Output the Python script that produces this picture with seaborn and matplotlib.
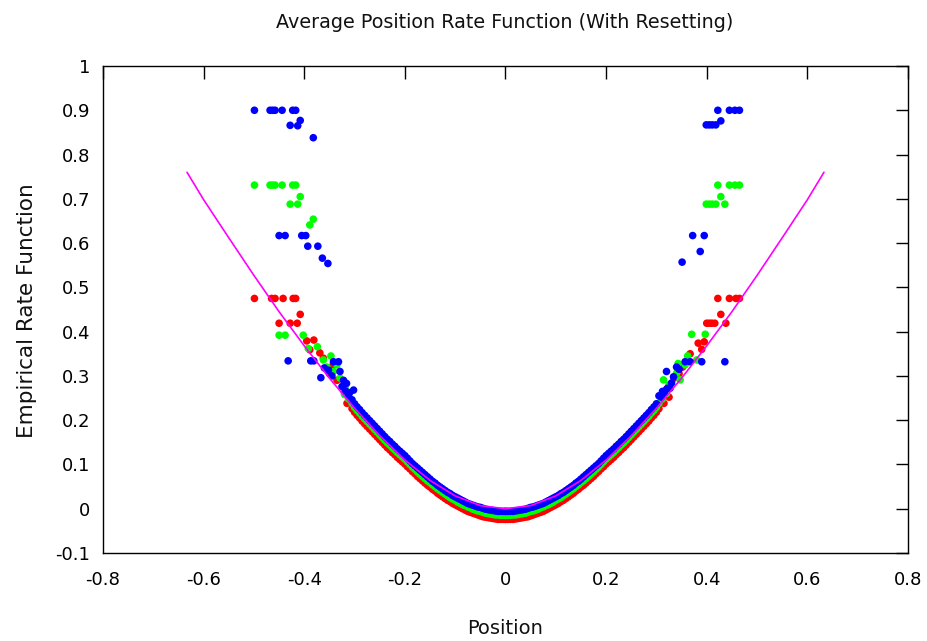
import matplotlib
matplotlib.use("Agg")
import matplotlib.pyplot as plt
import pandas as pd
import seaborn as sns

# ---------------- data ----------------
# dense band (half grid, mirrored to negative positions)
band_x = [0.000, 0.005, 0.010, 0.015, 0.020, 0.025, 0.030, 0.035, 0.040, 0.045,
          0.050, 0.055, 0.060, 0.065, 0.070, 0.075, 0.080, 0.085, 0.090, 0.095,
          0.100, 0.105, 0.110, 0.115, 0.120, 0.125, 0.130, 0.135, 0.140, 0.145,
          0.150, 0.155, 0.160, 0.165, 0.170, 0.175, 0.180, 0.185, 0.190, 0.195,
          0.200, 0.205, 0.210, 0.215, 0.220, 0.225, 0.230, 0.235, 0.240, 0.245,
          0.250, 0.255, 0.260, 0.265, 0.270, 0.275, 0.280, 0.285, 0.290, 0.295, 0.300]
blue_band_y = [-0.006, -0.006, -0.006, -0.006, -0.005, -0.004, -0.003, -0.002, -0.001, 0.001,
               0.003, 0.004, 0.006, 0.008, 0.010, 0.012, 0.015, 0.018, 0.021, 0.024,
               0.027, 0.030, 0.034, 0.037, 0.041, 0.045, 0.049, 0.053, 0.058, 0.062,
               0.067, 0.072, 0.077, 0.082, 0.087, 0.092, 0.097, 0.102, 0.108, 0.114,
               0.120, 0.125, 0.130, 0.135, 0.141, 0.146, 0.152, 0.157, 0.163, 0.169,
               0.175, 0.181, 0.187, 0.193, 0.199, 0.205, 0.211, 0.217, 0.224, 0.230, 0.237]
green_band_y = [-0.015, -0.015, -0.015, -0.014, -0.014, -0.013, -0.012, -0.011, -0.010, -0.008,
                -0.006, -0.005, -0.003, -0.001, 0.002, 0.004, 0.007, 0.009, 0.012, 0.015,
                0.019, 0.022, 0.025, 0.029, 0.033, 0.037, 0.041, 0.045, 0.050, 0.054,
                0.059, 0.063, 0.068, 0.073, 0.078, 0.083, 0.089, 0.094, 0.100, 0.106,
                0.112, 0.117, 0.122, 0.127, 0.133, 0.138, 0.144, 0.149, 0.155, 0.161,
                0.167, 0.173, 0.179, 0.185, 0.191, 0.197, 0.203, 0.209, 0.216, 0.222, 0.229]
red_band_y = [-0.024, -0.024, -0.024, -0.024, -0.023, -0.022, -0.021, -0.020, -0.019, -0.018,
              -0.016, -0.014, -0.012, -0.010, -0.008, -0.006, -0.003, 0.000, 0.003, 0.006,
              0.009, 0.012, 0.016, 0.019, 0.023, 0.027, 0.031, 0.035, 0.040, 0.044,
              0.049, 0.053, 0.058, 0.063, 0.068, 0.073, 0.079, 0.084, 0.090, 0.095,
              0.101, 0.106, 0.111, 0.116, 0.122, 0.127, 0.133, 0.138, 0.144, 0.150,
              0.156, 0.162, 0.168, 0.174, 0.180, 0.186, 0.192, 0.198, 0.205, 0.211, 0.218]

# scattered points (outer region)
blue_x = [-0.499, -0.468, -0.463, -0.458, -0.444, -0.423, -0.417, -0.428, -0.413, -0.408, -0.382,
          -0.450, -0.438, -0.405, -0.397, -0.393, -0.373, -0.364, -0.353, -0.432,
          -0.387, -0.381, -0.367, -0.352, -0.342, -0.332, -0.329, -0.316, -0.302, -0.345, -0.360, -0.322, -0.310,
          -0.305, -0.312, -0.318, -0.325,
          0.422, 0.445, 0.456, 0.465, 0.428, 0.399, 0.405, 0.411, 0.418,
          0.372, 0.395, 0.387, 0.351, 0.436,
          0.357, 0.367, 0.390, 0.320, 0.334, 0.327, 0.345, 0.312, 0.305, 0.340,
          0.310, 0.316, 0.322, 0.330]
blue_y = [0.900, 0.900, 0.900, 0.900, 0.900, 0.900, 0.900, 0.866, 0.865, 0.877, 0.838,
          0.617, 0.617, 0.617, 0.617, 0.593, 0.593, 0.566, 0.554, 0.334,
          0.334, 0.334, 0.296, 0.313, 0.332, 0.332, 0.310, 0.283, 0.268, 0.300, 0.318, 0.290, 0.262,
          0.246, 0.256, 0.266, 0.276,
          0.900, 0.900, 0.900, 0.900, 0.876, 0.867, 0.867, 0.867, 0.867,
          0.617, 0.617, 0.581, 0.557, 0.332,
          0.332, 0.332, 0.332, 0.310, 0.298, 0.272, 0.315, 0.265, 0.255, 0.320,
          0.252, 0.262, 0.272, 0.284]

green_x = [-0.499, -0.468, -0.463, -0.458, -0.444, -0.423, -0.417, -0.408, -0.428, -0.413,
           -0.382, -0.389, -0.450, -0.438,
           -0.402, -0.392, -0.374, -0.362, -0.347, -0.342, -0.329, -0.335, -0.318, -0.355,
           -0.305, -0.312, -0.320,
           0.422, 0.445, 0.456, 0.465, 0.428, 0.399, 0.405, 0.411, 0.418, 0.436,
           0.370, 0.397,
           0.343, 0.357, 0.380, 0.314, 0.340, 0.347, 0.325, 0.362, 0.307,
           0.305, 0.312, 0.320]
green_y = [0.731, 0.731, 0.731, 0.731, 0.731, 0.731, 0.731, 0.705, 0.688, 0.688,
           0.654, 0.641, 0.392, 0.392,
           0.392, 0.362, 0.366, 0.336, 0.345, 0.310, 0.295, 0.325, 0.270, 0.320,
           0.238, 0.248, 0.258,
           0.731, 0.731, 0.731, 0.731, 0.705, 0.688, 0.688, 0.688, 0.688, 0.688,
           0.394, 0.394,
           0.328, 0.325, 0.336, 0.291, 0.306, 0.291, 0.280, 0.345, 0.255,
           0.238, 0.248, 0.260]

red_x = [-0.499, -0.465, -0.458, -0.442, -0.422, -0.417, -0.408, -0.450, -0.428, -0.414,
         -0.395, -0.381, -0.389, -0.369, -0.362, -0.345, -0.350, -0.335, -0.320, -0.310,
         -0.305, -0.315,
         0.422, 0.445, 0.458, 0.465, 0.428, 0.400, 0.405, 0.410, 0.416, 0.438,
         0.383, 0.395, 0.367, 0.390, 0.352, 0.335, 0.320, 0.345, 0.310,
         0.305, 0.315, 0.325]
red_y = [0.475, 0.475, 0.475, 0.475, 0.475, 0.475, 0.439, 0.419, 0.419, 0.419,
         0.379, 0.381, 0.359, 0.352, 0.340, 0.321, 0.305, 0.290, 0.262, 0.245,
         0.226, 0.238,
         0.475, 0.475, 0.475, 0.475, 0.439, 0.419, 0.419, 0.419, 0.419, 0.419,
         0.374, 0.377, 0.350, 0.360, 0.320, 0.295, 0.270, 0.305, 0.245,
         0.226, 0.238, 0.252]

# theoretical rate function (magenta)
curve_x = [-0.633, -0.60, -0.55, -0.50, -0.45, -0.40, -0.35, -0.30, -0.25, -0.20, -0.15, -0.10, -0.05,
           0.00, 0.05, 0.10, 0.15, 0.20, 0.25, 0.30, 0.35, 0.40, 0.45, 0.50, 0.55, 0.60, 0.633]
curve_y = [0.760, 0.698, 0.612, 0.527, 0.445, 0.368, 0.295, 0.227, 0.165, 0.110, 0.064, 0.029, 0.007,
           0.000, 0.007, 0.029, 0.064, 0.110, 0.165, 0.227, 0.295, 0.368, 0.445, 0.527, 0.612, 0.698, 0.760]

x_ticks = [-0.8, -0.6, -0.4, -0.2, 0, 0.2, 0.4, 0.6, 0.8]
x_tick_labels = ["-0.8", "-0.6", "-0.4", "-0.2", "0", "0.2", "0.4", "0.6", "0.8"]
y_ticks = [-0.1, 0, 0.1, 0.2, 0.3, 0.4, 0.5, 0.6, 0.7, 0.8, 0.9, 1.0]
y_tick_labels = ["-0.1", "0", "0.1", "0.2", "0.3", "0.4", "0.5", "0.6", "0.7", "0.8", "0.9", "1"]

# ---------------- build table ----------------
def series_frame(name, bx, by, ox, oy):
    xs = [-v for v in bx] + list(bx) + list(ox)
    ys = list(by) + list(by) + list(oy)
    return pd.DataFrame({"x": xs, "y": ys, "series": name})

df = pd.concat([
    series_frame("red", band_x, red_band_y, red_x, red_y),
    series_frame("green", band_x, green_band_y, green_x, green_y),
    series_frame("blue", band_x, blue_band_y, blue_x, blue_y),
], ignore_index=True)

# ---------------- plot ----------------
sns.set_theme(style="white")
plt.rcParams['font.family'] = ['DejaVu Sans']
plt.rcParams['text.color'] = '#111111'

fig = plt.figure(figsize=(9.28, 6.41), dpi=100)
ax = fig.add_axes([103 / 928, 88 / 641, 805 / 928, 487 / 641])

sns.scatterplot(data=df, x="x", y="y", hue="series",
                palette={"red": "#ff0000", "green": "#00ff00", "blue": "#0000ff"},
                s=30, edgecolor="none", linewidth=0, legend=False, ax=ax, zorder=2)
sns.lineplot(x=curve_x, y=curve_y, color="#ff00ff", linewidth=1.2,
             sort=False, estimator=None, ax=ax, zorder=3)

ax.set_xlim(-0.8, 0.8)
ax.set_ylim(-0.1, 1.0)
ax.set_xticks(x_ticks)
ax.set_xticklabels(x_tick_labels)
ax.set_yticks(y_ticks)
ax.set_yticklabels(y_tick_labels)
ax.tick_params(direction="in", length=9, width=1, top=True, right=True,
               labelsize=13, colors="black")
ax.tick_params(axis="x", pad=13)
ax.tick_params(axis="y", pad=9)
for sp in ax.spines.values():
    sp.set_color("black")
    sp.set_linewidth(1)

ax.set_xlabel("")
ax.set_ylabel("")
fig.text(505 / 928, 1 - 628 / 641, "Position", ha="center", va="center", fontsize=14)
fig.text(27 / 928, 1 - 311 / 641, "Empirical Rate Function", ha="center", va="center",
         rotation=90, fontsize=15.5)
fig.text(505 / 928, 1 - 22 / 641, "Average Position Rate Function (With Resetting)",
         ha="center", va="center", fontsize=13.8)

fig.savefig("out.png", dpi=100)
